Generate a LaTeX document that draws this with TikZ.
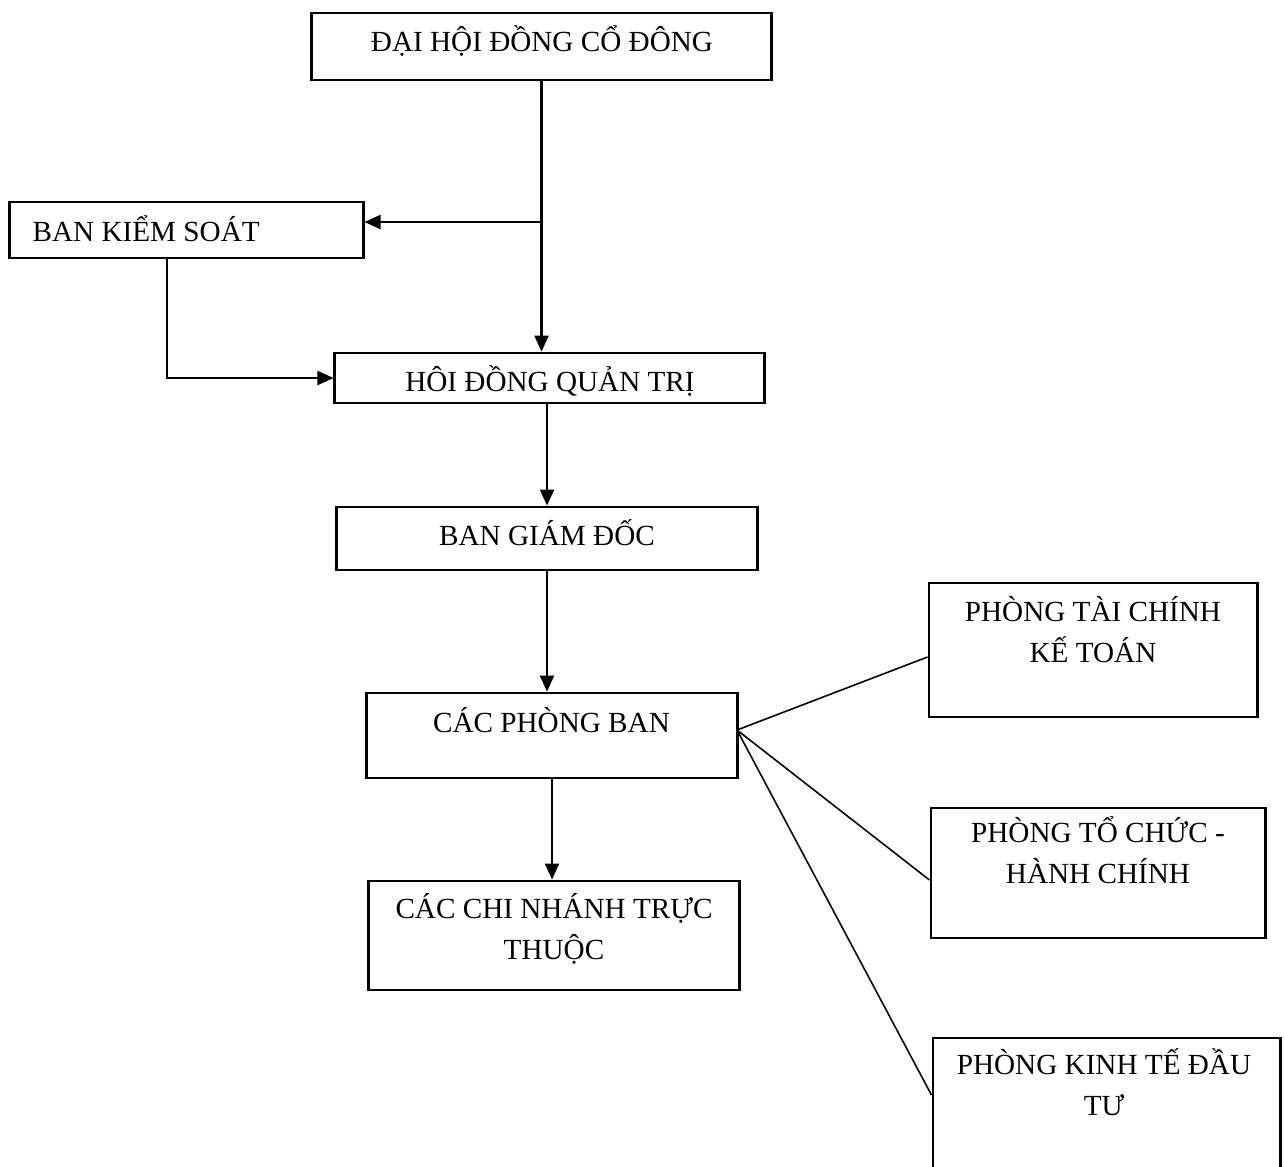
\documentclass[tikz,border=0pt]{standalone}
\usepackage{fontspec}
\setmainfont{Liberation Serif}
\usetikzlibrary{arrows.meta,calc}
\tikzset{
  khung/.style={draw, line width=0.8pt, inner sep=0pt},
  chu/.style={anchor=base, align=center, inner sep=0pt, font=\fontsize{8.3}{11.4}\selectfont},
  muiten/.style={line width=0.6pt, -{Triangle[length=1.6mm,width=1.4mm]}},
  noi/.style={line width=0.45pt}
}
\begin{document}
\begin{tikzpicture}[x=0.01cm,y=-0.01cm]
  \useasboundingbox (0,0) rectangle (1285,1166);
  % khung
  \node[khung, minimum width=4.59cm, minimum height=0.67cm] (dhdcd) at (541.5,46.5) {};
  \node[khung, minimum width=3.53cm, minimum height=0.56cm] (bks) at (186.5,230) {};
  \node[khung, minimum width=4.29cm, minimum height=0.50cm] (hdqt) at (549.5,378) {};
  \node[khung, minimum width=4.20cm, minimum height=0.63cm] (bgd) at (547,538.5) {};
  \node[khung, minimum width=3.70cm, minimum height=0.85cm] (cpb) at (552,735.5) {};
  \node[khung, minimum width=3.70cm, minimum height=1.09cm] (ccn) at (554,935.5) {};
  \node[khung, minimum width=3.28cm, minimum height=1.34cm] (ptckt) at (1093,650) {};
  \node[khung, minimum width=3.34cm, minimum height=1.30cm] (ptchc) at (1098,873) {};
  \node[khung, minimum width=3.47cm, minimum height=1.40cm] (pktdt) at (1106.5,1108) {};
  % chu (base = dong cuoi)
  \node[chu] (t-dhdcd) at (542,51) {ĐẠI HỘI ĐỒNG CỔ ĐÔNG};
  \node[chu, anchor=base west] (t-bks) at (32,241) {BAN KIỂM SOÁT};
  \node[chu] (t-hdqt) at (550,391) {HÔI ĐỒNG QUẢN TRỊ};
  \node[chu] (t-bgd) at (547,545) {BAN GIÁM ĐỐC};
  \node[chu] (t-cpb) at (551.5,732) {CÁC PHÒNG BAN};
  \node[chu] (t-ccn) at (554,959) {CÁC CHI NHÁNH TRỰC\\THUỘC};
  \node[chu] (t-ptckt) at (1093,662) {PHÒNG TÀI CHÍNH\\KẾ TOÁN};
  \node[chu] (t-ptchc) at (1098,883) {PHÒNG TỔ CHỨC -\\HÀNH CHÍNH};
  \node[chu] (t-pktdt) at (1104,1115) {PHÒNG KINH TẾ ĐẦU\\TƯ};
  % duong noi
  \coordinate (nhanh) at (541.5,222);
  \coordinate (gapbks) at ($(bks.south)+(-19.5,0)$);
  \coordinate (toa) at (737,730);
  \draw[muiten] (dhdcd.south) -- (dhdcd.south |- hdqt.north);
  \draw[muiten] (nhanh) -- (nhanh -| bks.east);
  \draw[muiten] (gapbks) |- (hdqt.west);
  \draw[muiten] (bgd.north |- hdqt.south) -- (bgd.north);
  \draw[muiten] (bgd.south) -- (bgd.south |- cpb.north);
  \draw[muiten] (cpb.south) -- (cpb.south |- ccn.north);
  \foreach \p/\d in {ptckt/-0.07,ptchc/-0.07,pktdt/0.13}
    \draw[noi] (toa) -- ([yshift=\d cm]\p.west);
\end{tikzpicture}
\end{document}
